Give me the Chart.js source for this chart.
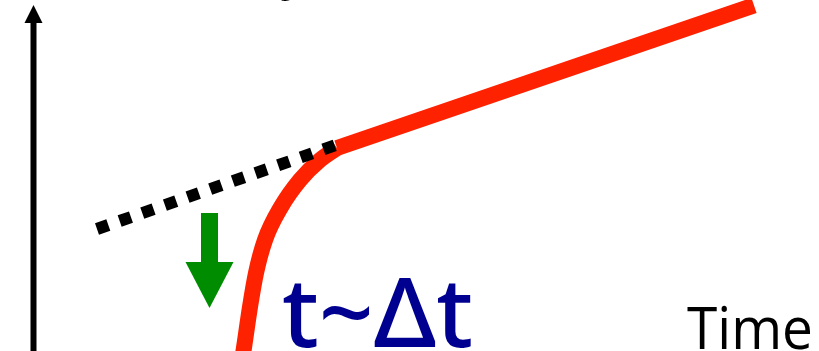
<!DOCTYPE html>
<html>
<head>
<meta charset="utf-8">
<script src="https://cdn.jsdelivr.net/npm/chart.js@4.4.1/dist/chart.umd.min.js"></script>
<style>
  html, body { margin: 0; padding: 0; background: #ffffff; overflow: hidden; }
  #wrap { width: 819px; height: 351px; }
</style>
</head>
<body>
<div id="wrap"><canvas id="c" width="819" height="351"></canvas></div>
<script>
// ---- Data (abstract schematic units: time on x, signal on y) ----
const curveTime   = [2.41, 2.435, 2.50, 2.56, 2.65, 2.81, 3.00, 3.20, 3.37];
const curveSignal = [-0.15, 0.00, 0.44, 0.78, 1.11, 1.44, 1.71, 1.91, 2.03];
const linearTime   = [3.37, 7.54];
const linearSignal = [2.03, 3.456];
const extrapTime   = [0.97, 3.40];
const extrapSignal = [1.22, 2.075];
const axisTime   = [0.335, 0.335];
const axisSignal = [-0.10, 3.29];
const shiftTime   = [2.095, 2.095];
const shiftSignal = [1.38, 0.88];
const xLabel = 'Time';
const yLabel = 'Intensity';
const delayLabel = 't~\u0394t';

const toPts = (xs, ys) => xs.map((x, i) => ({ x: x, y: ys[i] }));

const annotations = {
  id: 'annotations',
  afterDatasetsDraw(chart) {
    const ctx = chart.ctx;
    const xs = chart.scales.x, ys = chart.scales.y;
    const px = v => xs.getPixelForValue(v);
    const py = v => ys.getPixelForValue(v);
    ctx.save();
    // y-axis arrow head
    ctx.fillStyle = '#000000';
    ctx.beginPath();
    ctx.moveTo(px(0.335), py(3.46));
    ctx.lineTo(px(0.335 - 0.09), py(3.28));
    ctx.lineTo(px(0.335 + 0.09), py(3.28));
    ctx.closePath();
    ctx.fill();
    // green arrow head
    ctx.fillStyle = 'rgb(0,140,0)';
    ctx.beginPath();
    ctx.moveTo(px(2.095), py(0.43));
    ctx.lineTo(px(2.095 - 0.24), py(0.89));
    ctx.lineTo(px(2.095 + 0.24), py(0.89));
    ctx.closePath();
    ctx.fill();

    function fitText(text, font, color, xLeft, yBase, width) {
      ctx.font = font;
      ctx.fillStyle = color;
      ctx.textBaseline = 'alphabetic';
      ctx.textAlign = 'left';
      const w = ctx.measureText(text).width;
      const x0 = px(xLeft), y0 = py(yBase);
      const target = px(xLeft + width) - x0;
      ctx.save();
      ctx.translate(x0, y0);
      ctx.scale(target / w, 1);
      ctx.fillText(text, 0, 0);
      ctx.restore();
    }
    fitText(delayLabel, '500 97px "Noto Sans"', 'rgb(0,0,144)', 2.82, 0.04, 1.91);
    fitText(xLabel, '400 58px "Open Sans"', '#000000', 6.87, 0.02, 1.26);
    // y label (mostly above the visible area)
    ctx.font = '400 58px "Open Sans"';
    ctx.fillStyle = '#000000';
    ctx.textAlign = 'right';
    ctx.fillText(yLabel, px(3.10), py(3.64));
    ctx.restore();
  }
};

new Chart(document.getElementById('c'), {
  type: 'scatter',
  data: {
    datasets: [
      { data: toPts(axisTime, axisSignal), showLine: true, borderColor: '#000000', borderWidth: 6,
        pointRadius: 0, borderCapStyle: 'butt' },
      { data: toPts(extrapTime, extrapSignal), showLine: true, borderColor: '#000000', borderWidth: 12,
        borderDash: [12, 12], pointRadius: 0, borderCapStyle: 'butt' },
      { data: toPts(shiftTime, shiftSignal), showLine: true, borderColor: 'rgb(0,140,0)', borderWidth: 17,
        pointRadius: 0, borderCapStyle: 'butt' },
      { data: toPts(curveTime, curveSignal), showLine: true, borderColor: 'rgb(255,34,0)', borderWidth: 16,
        pointRadius: 0, cubicInterpolationMode: 'monotone', borderCapStyle: 'butt' },
      { data: toPts(linearTime, linearSignal), showLine: true, borderColor: 'rgb(255,34,0)', borderWidth: 16,
        pointRadius: 0, borderCapStyle: 'butt' }
    ]
  },
  options: {
    responsive: false,
    animation: false,
    devicePixelRatio: 1,
    layout: { padding: 0 },
    plugins: { legend: { display: false }, tooltip: { enabled: false } },
    scales: {
      x: { type: 'linear', min: 0, max: 8.19, display: false },
      y: { type: 'linear', min: 0, max: 3.51, display: false }
    },
    elements: { line: { clip: false } }
  },
  plugins: [annotations]
});
</script>
</body>
</html>
